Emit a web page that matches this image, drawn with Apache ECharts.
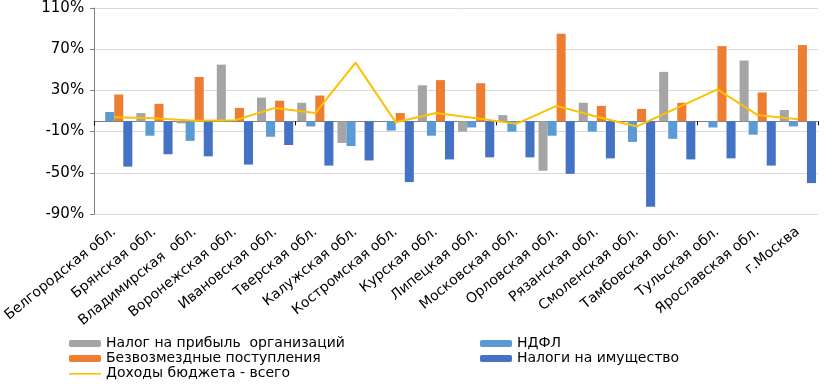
<!DOCTYPE html>
<html>
<head>
<meta charset="utf-8">
<script src="https://cdn.jsdelivr.net/npm/echarts@6/dist/echarts.min.js"></script>
<style>
	body { margin: 0; background: #fff; }
</style>
</head>
<body>
<div id="chart" style="width: 825px;height:386px;"></div>

<script>

var regions = ['Белгородская обл.','Брянская обл.','Владимирская  обл.','Воронежская обл.','Ивановская обл.','Тверская обл.',
	'Калужская обл.','Костромская обл.','Курская обл.','Липецкая обл.','Московская обл.','Орловская обл.',
	'Рязанская обл.','Смоленская обл.','Тамбовская обл.','Тульская обл.','Ярославская обл.','г.Москва'];

var profitTax = [0, 8, -2, 55, 23, 18, -21, 0, 35, -10, 6, -48, 18, 0, 48, 0, 59, 11];
var ndfl      = [9, -14, -19, 0, -15, -5, -24, -9, -14, -6, -10, -14, -10, -20, -17, -6, -13, -5];
var grants    = [26, 17, 43, 13, 20, 25, 0, 8, 40, 37, 0, 85, 15, 12, 18, 73, 28, 74];
var property  = [-44, -32, -34, -42, -23, -43, -38, -59, -37, -35, -35, -51, -36, -83, -37, -36, -43, -60];
var total     = [4, 3, 0.5, 1, 13, 8, 57, -1, 8, 3, -2.5, 15, 4.5, -5, 13, 31, 6, 2];

var yTicks = { min: -90, max: 110, step: 40 };

var chart = echarts.init(document.getElementById('chart'));

var font = 'DejaVu Sans, Arial, sans-serif';

// thin line icon for the line series in the legend
var lineIcon = 'path://M0,0 L0,0 M0,3 L32,3 L32,4.6 L0,4.6 Z M32,7 L32,7';

function barSeries(name, data, color) {
	return {
		name: name,
		type: 'bar',
		data: data,
		barGap: '0%',
		barCategoryGap: '10%',
		itemStyle: { color: color }
	};
}

var legendText = { fontSize: 14, lineHeight: 15, color: '#000', fontFamily: font };

chart.setOption({
	animation: false,
	textStyle: { fontFamily: font },
	grid: { left: 92, right: 7, top: 8, bottom: 172 },
	legend: [{
		left: 64, top: 331, orient: 'vertical',
		itemWidth: 32, itemHeight: 7, itemGap: 0,
		textStyle: legendText,
		data: ['Налог на прибыль  организаций', 'Безвозмездные поступления',
			{ name: 'Доходы бюджета - всего', icon: lineIcon }]
	}, {
		left: 475, top: 331, orient: 'vertical',
		itemWidth: 32, itemHeight: 7, itemGap: 0,
		textStyle: legendText,
		data: ['НДФЛ', 'Налоги на имущество']
	}],
	xAxis: [{
		type: 'category',
		data: regions,
		axisLine: { onZero: true, lineStyle: { color: '#7f7f7f' } },
		axisTick: { show: true, length: 4, lineStyle: { color: '#000' } },
		axisLabel: { show: false }
	}, {
		type: 'category',
		data: regions,
		position: 'bottom',
		axisLine: { show: false, onZero: false },
		axisTick: { show: false },
		axisLabel: { interval: 0, rotate: 39, fontSize: 14, color: '#000', margin: 16 }
	}],
	yAxis: {
		type: 'value',
		min: yTicks.min,
		max: yTicks.max,
		interval: yTicks.step,
		axisLine: { show: true, lineStyle: { color: '#7f7f7f' } },
		axisTick: { show: true, length: 4, lineStyle: { color: '#7f7f7f' } },
		axisLabel: { formatter: '{value}%', fontSize: 15, color: '#000', margin: 10 },
		splitLine: { lineStyle: { color: '#d9d9d9' } }
	},
	series: [
		barSeries('Налог на прибыль  организаций', profitTax, '#a5a5a5'),
		barSeries('НДФЛ', ndfl, '#5b9bd5'),
		barSeries('Безвозмездные поступления', grants, '#ed7d31'),
		barSeries('Налоги на имущество', property, '#4472c4'),
		{
			name: 'Доходы бюджета - всего',
			type: 'line',
			data: total,
			symbol: 'none',
			z: 5,
			itemStyle: { color: '#ffc000' },
			lineStyle: { color: '#ffc000', width: 2 }
		}
	]
});

</script>
</body>
</html>
